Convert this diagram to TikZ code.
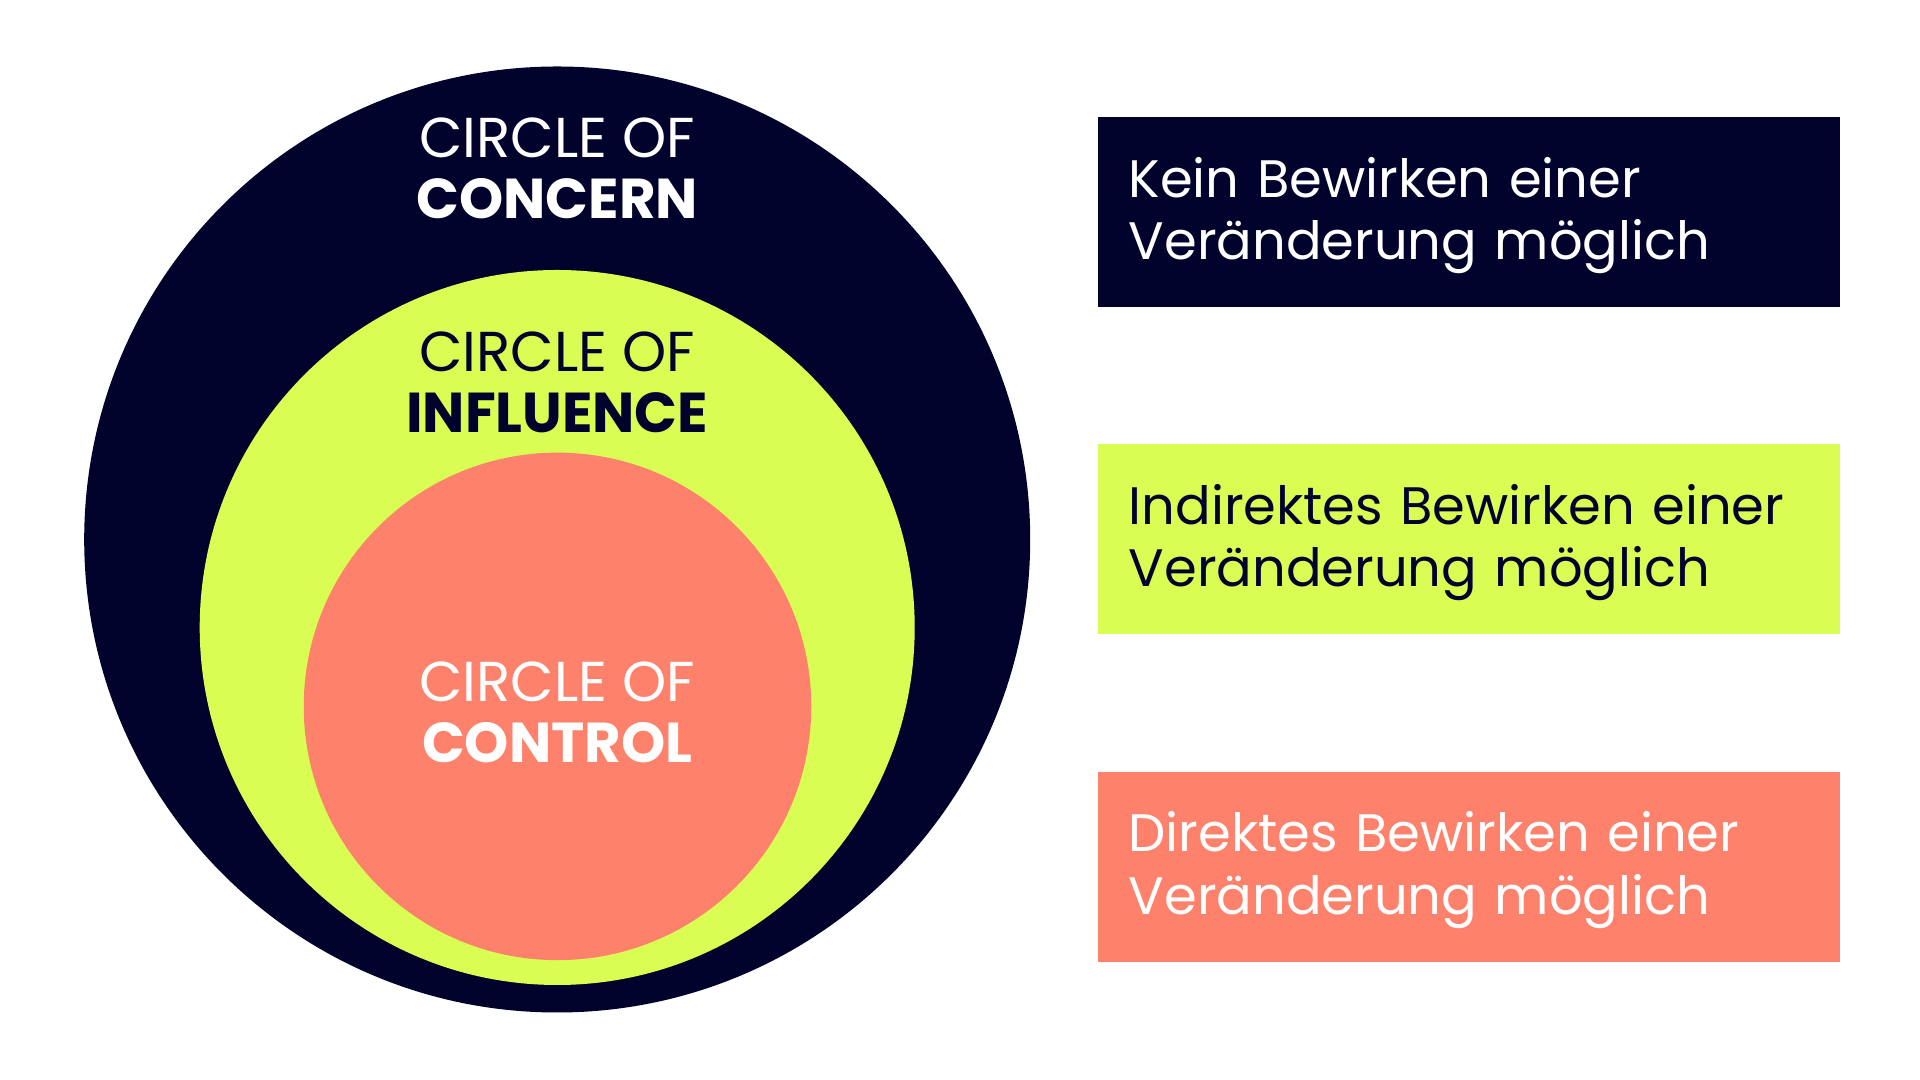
\documentclass[tikz,border=0pt]{standalone}
\usepackage{fontspec}
\setmainfont{Poppins}
\usetikzlibrary{positioning}

\definecolor{navy}{RGB}{1,3,45}
\definecolor{lime}{RGB}{218,253,84}
\definecolor{salmon}{RGB}{254,129,108}

\tikzset{
  ring/.style={circle, inner sep=0pt},
  ringlabel/.style={align=center, font=\fontsize{16}{17.4}\selectfont},
  infobox/.style={minimum width=7.42cm, minimum height=1.90cm, text width=6.80cm,
    inner xsep=0.31cm, align=left, font=\fontsize{15}{17.8}\selectfont,
    execute at begin node={\rule{0pt}{13.5pt}}}
}

\begin{document}
\begin{tikzpicture}
        \useasboundingbox[fill=white] (0,0) rectangle (19.2,10.8);
        \node[ring, fill=navy, minimum size=9.46cm] (concern) at (5.572,5.405) {};
        \node[ring, fill=lime, minimum size=7.15cm] (influence) at (5.572,4.525) {};
        \node[ring, fill=salmon, minimum size=5.075cm] (control) at (5.575,3.736) {};
        \node[ringlabel, text=white] (concernlabel) at (5.572,9.115)
        {CIRCLE OF\\\textbf{CONCERN}};
        \node[ringlabel, text=navy] (influencelabel) at (5.572,6.98)
        {CIRCLE OF\\\textbf{INFLUENCE}};
        \node[ringlabel, text=white] (controllabel) at (5.572,3.68)
        {CIRCLE OF\\\textbf{CONTROL}};
        \node[infobox, fill=navy, text=white, anchor=north west] (kein) at (10.97,9.64)
        {Kein Bewirken einer\\Veränderung möglich};
        \node[infobox, fill=lime, text=navy, below=1.36cm of kein] (indirekt)
        {Indirektes Bewirken einer\\Veränderung möglich};
        \node[infobox, fill=salmon, text=white, below=1.36cm of indirekt] (direkt)
        {Direktes Bewirken einer\\Veränderung möglich};
      \end{tikzpicture}
\end{document}
